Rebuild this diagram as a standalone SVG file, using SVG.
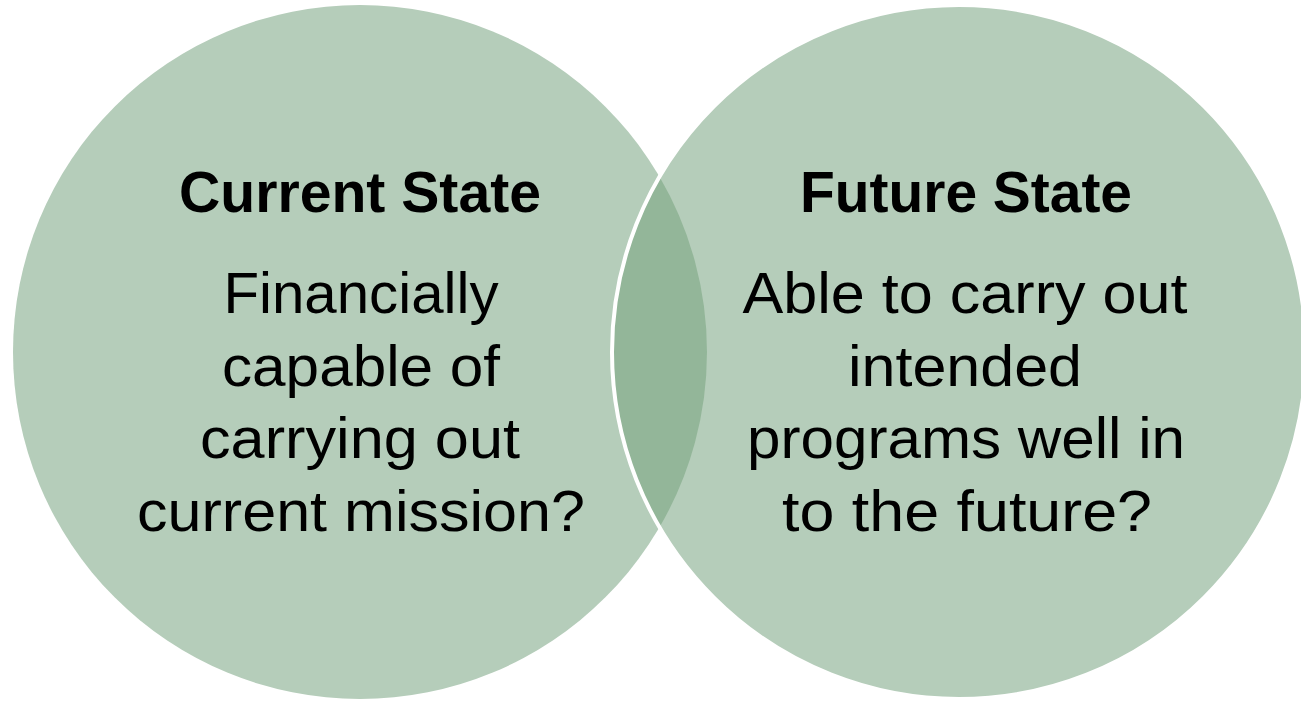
<svg xmlns="http://www.w3.org/2000/svg" width="1301" height="702" viewBox="0 0 1301 702">
  <style>
    .circle { fill: #B5CDBA; }
    .lens { fill: #93B699; }
    .outline { fill: none; stroke: #FFFFFF; stroke-width: 4; }
    .title { font-family: "Liberation Sans", Arial, sans-serif; font-weight: bold; font-size: 58px; fill: #000000; text-anchor: middle; }
    .body { font-family: "Liberation Sans", Arial, sans-serif; font-size: 58px; fill: #000000; text-anchor: middle; }
  </style>
  <rect x="0" y="0" width="1301" height="702" fill="#FFFFFF"/>
  <g id="current-state-shape">
    <circle class="circle" cx="360" cy="352" r="347"/>
  </g>
  <g id="future-state-shape">
    <circle class="circle" cx="959" cy="352" r="347"/>
  </g>
  <g id="overlap">
    <path class="lens" d="M 659.5 176.8 A 347 347 0 0 1 659.5 527.2 A 347 347 0 0 1 659.5 176.8 Z"/>
    <circle class="outline" cx="959" cy="352" r="347"/>
  </g>
  <g id="connectors"></g>
  <g id="current-state">
    <text class="title" x="360" y="212" textLength="362" lengthAdjust="spacingAndGlyphs">Current State</text>
    <text class="body" x="361" y="313" textLength="275" lengthAdjust="spacingAndGlyphs">Financially</text>
    <text class="body" x="361" y="386" textLength="278" lengthAdjust="spacingAndGlyphs">capable of</text>
    <text class="body" x="360" y="458" textLength="320" lengthAdjust="spacingAndGlyphs">carrying out</text>
    <text class="body" x="361" y="531" textLength="448" lengthAdjust="spacingAndGlyphs">current mission?</text>
  </g>
  <g id="future-state">
    <text class="title" x="966" y="212" textLength="332" lengthAdjust="spacingAndGlyphs">Future State</text>
    <text class="body" x="965" y="313" textLength="445" lengthAdjust="spacingAndGlyphs">Able to carry out</text>
    <text class="body" x="965" y="386" textLength="234" lengthAdjust="spacingAndGlyphs">intended</text>
    <text class="body" x="966" y="458" textLength="438" lengthAdjust="spacingAndGlyphs">programs well in</text>
    <text class="body" x="967" y="531" textLength="370" lengthAdjust="spacingAndGlyphs">to the future?</text>
  </g>
</svg>
